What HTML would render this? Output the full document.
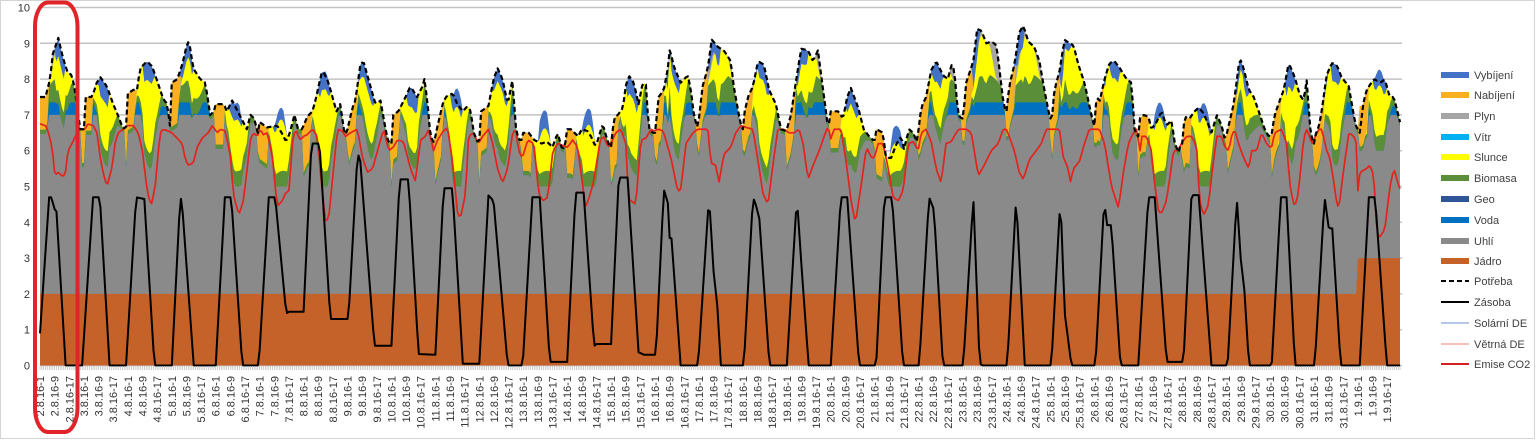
<!DOCTYPE html>
<html><head><meta charset="utf-8">
<style>
html,body{margin:0;padding:0;background:#fff;}
svg{display:block;}
text{font-family:"Liberation Sans",Arial,sans-serif;}
.xl{font-size:11px;fill:#333;}
.yl{font-size:11px;fill:#333;}
.lg{font-size:11px;fill:#404040;}
</style></head><body>
<svg id="c" width="1536" height="440" viewBox="0 0 1536 440" xmlns="http://www.w3.org/2000/svg">
<rect width="1536" height="440" fill="#fff"/>
<rect x="0.5" y="0.5" width="1534" height="438" fill="none" stroke="#d4d4d4"/>
<g stroke="#c3c3c3" stroke-width="1.5">
<line x1="40" y1="7.5" x2="1402" y2="7.5"/>
<line x1="40" y1="43.3" x2="1402" y2="43.3"/>
<line x1="40" y1="79.1" x2="1402" y2="79.1"/>
<line x1="40" y1="114.9" x2="1402" y2="114.9"/>
<line x1="40" y1="150.7" x2="1402" y2="150.7"/>
<line x1="40" y1="186.5" x2="1402" y2="186.5"/>
<line x1="40" y1="222.3" x2="1402" y2="222.3"/>
<line x1="40" y1="258.1" x2="1402" y2="258.1"/>
<line x1="40" y1="293.9" x2="1402" y2="293.9"/>
<line x1="40" y1="329.7" x2="1402" y2="329.7"/>
<line x1="40" y1="365.5" x2="1402" y2="365.5"/>
</g>
<g id="data"></g>
<path id="ticks" stroke="#bbbbbb" stroke-width="0.7" fill="none"/>
<g class="yl" text-anchor="end">
<text x="30" y="11.5">10</text>
<text x="30" y="47.3">9</text>
<text x="30" y="83.1">8</text>
<text x="30" y="118.9">7</text>
<text x="30" y="154.7">6</text>
<text x="30" y="190.5">5</text>
<text x="30" y="226.3">4</text>
<text x="30" y="262.1">3</text>
<text x="30" y="297.9">2</text>
<text x="30" y="333.7">1</text>
<text x="30" y="369.5">0</text>
</g>
<g class="xl" text-anchor="end">
<text transform="translate(44.0,376) rotate(-90)">2.8.16-1</text>
<text transform="translate(58.64,376) rotate(-90)">2.8.16-9</text>
<text transform="translate(73.29,376) rotate(-90)">2.8.16-17</text>
<text transform="translate(87.93,376) rotate(-90)">3.8.16-1</text>
<text transform="translate(102.57,376) rotate(-90)">3.8.16-9</text>
<text transform="translate(117.22,376) rotate(-90)">3.8.16-17</text>
<text transform="translate(131.86,376) rotate(-90)">4.8.16-1</text>
<text transform="translate(146.50,376) rotate(-90)">4.8.16-9</text>
<text transform="translate(161.15,376) rotate(-90)">4.8.16-17</text>
<text transform="translate(175.79,376) rotate(-90)">5.8.16-1</text>
<text transform="translate(190.43,376) rotate(-90)">5.8.16-9</text>
<text transform="translate(205.08,376) rotate(-90)">5.8.16-17</text>
<text transform="translate(219.72,376) rotate(-90)">6.8.16-1</text>
<text transform="translate(234.36,376) rotate(-90)">6.8.16-9</text>
<text transform="translate(249.01,376) rotate(-90)">6.8.16-17</text>
<text transform="translate(263.65,376) rotate(-90)">7.8.16-1</text>
<text transform="translate(278.29,376) rotate(-90)">7.8.16-9</text>
<text transform="translate(292.94,376) rotate(-90)">7.8.16-17</text>
<text transform="translate(307.58,376) rotate(-90)">8.8.16-1</text>
<text transform="translate(322.22,376) rotate(-90)">8.8.16-9</text>
<text transform="translate(336.87,376) rotate(-90)">8.8.16-17</text>
<text transform="translate(351.51,376) rotate(-90)">9.8.16-1</text>
<text transform="translate(366.15,376) rotate(-90)">9.8.16-9</text>
<text transform="translate(380.80,376) rotate(-90)">9.8.16-17</text>
<text transform="translate(395.44,376) rotate(-90)">10.8.16-1</text>
<text transform="translate(410.08,376) rotate(-90)">10.8.16-9</text>
<text transform="translate(424.73,376) rotate(-90)">10.8.16-17</text>
<text transform="translate(439.37,376) rotate(-90)">11.8.16-1</text>
<text transform="translate(454.01,376) rotate(-90)">11.8.16-9</text>
<text transform="translate(468.66,376) rotate(-90)">11.8.16-17</text>
<text transform="translate(483.30,376) rotate(-90)">12.8.16-1</text>
<text transform="translate(497.94,376) rotate(-90)">12.8.16-9</text>
<text transform="translate(512.59,376) rotate(-90)">12.8.16-17</text>
<text transform="translate(527.23,376) rotate(-90)">13.8.16-1</text>
<text transform="translate(541.87,376) rotate(-90)">13.8.16-9</text>
<text transform="translate(556.52,376) rotate(-90)">13.8.16-17</text>
<text transform="translate(571.16,376) rotate(-90)">14.8.16-1</text>
<text transform="translate(585.80,376) rotate(-90)">14.8.16-9</text>
<text transform="translate(600.45,376) rotate(-90)">14.8.16-17</text>
<text transform="translate(615.09,376) rotate(-90)">15.8.16-1</text>
<text transform="translate(629.73,376) rotate(-90)">15.8.16-9</text>
<text transform="translate(644.38,376) rotate(-90)">15.8.16-17</text>
<text transform="translate(659.02,376) rotate(-90)">16.8.16-1</text>
<text transform="translate(673.66,376) rotate(-90)">16.8.16-9</text>
<text transform="translate(688.31,376) rotate(-90)">16.8.16-17</text>
<text transform="translate(702.95,376) rotate(-90)">17.8.16-1</text>
<text transform="translate(717.59,376) rotate(-90)">17.8.16-9</text>
<text transform="translate(732.24,376) rotate(-90)">17.8.16-17</text>
<text transform="translate(746.88,376) rotate(-90)">18.8.16-1</text>
<text transform="translate(761.52,376) rotate(-90)">18.8.16-9</text>
<text transform="translate(776.17,376) rotate(-90)">18.8.16-17</text>
<text transform="translate(790.81,376) rotate(-90)">19.8.16-1</text>
<text transform="translate(805.45,376) rotate(-90)">19.8.16-9</text>
<text transform="translate(820.10,376) rotate(-90)">19.8.16-17</text>
<text transform="translate(834.74,376) rotate(-90)">20.8.16-1</text>
<text transform="translate(849.38,376) rotate(-90)">20.8.16-9</text>
<text transform="translate(864.02,376) rotate(-90)">20.8.16-17</text>
<text transform="translate(878.67,376) rotate(-90)">21.8.16-1</text>
<text transform="translate(893.31,376) rotate(-90)">21.8.16-9</text>
<text transform="translate(907.95,376) rotate(-90)">21.8.16-17</text>
<text transform="translate(922.60,376) rotate(-90)">22.8.16-1</text>
<text transform="translate(937.24,376) rotate(-90)">22.8.16-9</text>
<text transform="translate(951.88,376) rotate(-90)">22.8.16-17</text>
<text transform="translate(966.53,376) rotate(-90)">23.8.16-1</text>
<text transform="translate(981.17,376) rotate(-90)">23.8.16-9</text>
<text transform="translate(995.81,376) rotate(-90)">23.8.16-17</text>
<text transform="translate(1010.46,376) rotate(-90)">24.8.16-1</text>
<text transform="translate(1025.10,376) rotate(-90)">24.8.16-9</text>
<text transform="translate(1039.74,376) rotate(-90)">24.8.16-17</text>
<text transform="translate(1054.39,376) rotate(-90)">25.8.16-1</text>
<text transform="translate(1069.03,376) rotate(-90)">25.8.16-9</text>
<text transform="translate(1083.67,376) rotate(-90)">25.8.16-17</text>
<text transform="translate(1098.32,376) rotate(-90)">26.8.16-1</text>
<text transform="translate(1112.96,376) rotate(-90)">26.8.16-9</text>
<text transform="translate(1127.60,376) rotate(-90)">26.8.16-17</text>
<text transform="translate(1142.25,376) rotate(-90)">27.8.16-1</text>
<text transform="translate(1156.89,376) rotate(-90)">27.8.16-9</text>
<text transform="translate(1171.53,376) rotate(-90)">27.8.16-17</text>
<text transform="translate(1186.18,376) rotate(-90)">28.8.16-1</text>
<text transform="translate(1200.82,376) rotate(-90)">28.8.16-9</text>
<text transform="translate(1215.46,376) rotate(-90)">28.8.16-17</text>
<text transform="translate(1230.11,376) rotate(-90)">29.8.16-1</text>
<text transform="translate(1244.75,376) rotate(-90)">29.8.16-9</text>
<text transform="translate(1259.39,376) rotate(-90)">29.8.16-17</text>
<text transform="translate(1274.04,376) rotate(-90)">30.8.16-1</text>
<text transform="translate(1288.68,376) rotate(-90)">30.8.16-9</text>
<text transform="translate(1303.32,376) rotate(-90)">30.8.16-17</text>
<text transform="translate(1317.97,376) rotate(-90)">31.8.16-1</text>
<text transform="translate(1332.61,376) rotate(-90)">31.8.16-9</text>
<text transform="translate(1347.25,376) rotate(-90)">31.8.16-17</text>
<text transform="translate(1361.90,376) rotate(-90)">1.9.16-1</text>
<text transform="translate(1376.54,376) rotate(-90)">1.9.16-9</text>
<text transform="translate(1391.18,376) rotate(-90)">1.9.16-17</text>
</g>
<g>
<rect x="1441" y="72" width="28" height="6" fill="#4472c4"/>
<rect x="1441" y="92" width="28" height="6" fill="#f8b021"/>
<rect x="1441" y="113" width="28" height="6" fill="#a5a5a5"/>
<rect x="1441" y="134" width="28" height="6" fill="#00b0f0"/>
<rect x="1441" y="154" width="28" height="6" fill="#ffff00"/>
<rect x="1441" y="175" width="28" height="6" fill="#5b8e39"/>
<rect x="1441" y="196" width="28" height="6" fill="#2f5597"/>
<rect x="1441" y="217" width="28" height="6" fill="#0070c0"/>
<rect x="1441" y="238" width="28" height="6" fill="#8a8a8a"/>
<rect x="1441" y="258" width="28" height="6" fill="#c5622a"/>
<line x1="1441" y1="281" x2="1469" y2="281" stroke="#000" stroke-width="2" stroke-dasharray="5,3"/>
<line x1="1441" y1="302" x2="1469" y2="302" stroke="#000" stroke-width="2"/>
<line x1="1441" y1="323" x2="1469" y2="323" stroke="#9bb5e0" stroke-width="1.5"/>
<line x1="1441" y1="344" x2="1469" y2="344" stroke="#f4aaa4" stroke-width="1.5"/>
<line x1="1441" y1="364" x2="1469" y2="364" stroke="#d42020" stroke-width="2"/>
</g>
<g class="lg">
<text x="1474" y="79">Vybíjení</text>
<text x="1474" y="99">Nabíjení</text>
<text x="1474" y="120">Plyn</text>
<text x="1474" y="141">Vítr</text>
<text x="1474" y="161">Slunce</text>
<text x="1474" y="182">Biomasa</text>
<text x="1474" y="203">Geo</text>
<text x="1474" y="224">Voda</text>
<text x="1474" y="245">Uhlí</text>
<text x="1474" y="265">Jádro</text>
<text x="1474" y="285">Potřeba</text>
<text x="1474" y="306">Zásoba</text>
<text x="1474" y="327">Solární DE</text>
<text x="1474" y="348">Větrná DE</text>
<text x="1474" y="368">Emise CO2</text>
</g>
<rect x="35" y="2.5" width="42.5" height="429.5" rx="13" ry="24" fill="none" stroke="#e0242a" stroke-width="4"/>
</svg>
<script>
(function(){
var N=744,X0=40,DX=1360/743;
function X(t){return X0+t*DX;}
function Y(v){return 365.5-v*35.8;}
var Dd=[
[[0,7.5],[3,7.5],[5.5,8.0],[7,8.7],[10,9.15],[12.5,8.6],[15,8.2],[17.5,8.1],[19,7.7],[22,6.6]],
[[0,6.6],[1,7.5],[4.5,7.5],[7,7.9],[9,8.05],[12.5,7.8],[16,7.3],[18.5,7.0],[21.5,6.6],[23.5,6.7]],
[[0,7.6],[3,7.7],[5,7.7],[6.7,8.3],[10.5,8.5],[13.3,8.35],[16,7.95],[19.3,7.45],[21.5,7.3],[23,6.7]],
[[0,7.9],[3,8.0],[5.7,8.4],[8.4,9.0],[9.5,9.05],[11.7,8.3],[15.5,8.0],[18.3,7.9],[21,7.0],[23,7.1]],
[[0,7.3],[4.6,7.3],[6,7.1],[9,7.4],[12,7.1],[17,6.6],[19,7.0],[21,6.9],[23,6.5]],
[[0,6.8],[4,6.65],[9.6,6.7],[12,6.5],[14.5,6.25],[16.5,6.5],[19,7.0],[21,6.6],[23,6.6]],
[[0,6.7],[2,6.95],[4.8,7.1],[6.5,7.4],[8.6,7.9],[10.3,8.25],[13,7.98],[14.7,7.7],[16.3,7.4],[18,7.1],[20,7.3],[22,6.6],[23.5,6.4]],
[[0,6.6],[2.7,7.2],[4.3,7.4],[7,8.4],[8.7,8.5],[11.4,8.0],[15.3,7.3],[18,7.4],[20.8,6.6],[22.5,6.2]],
[[0,6.2],[1,7.0],[3.8,7.1],[7.7,7.5],[10.4,7.8],[14,7.5],[17,7.8],[18,8.0],[19.7,7.35],[21.3,6.4],[23,6.25]],
[[0,6.4],[1,6.65],[4,7.3],[5.6,7.5],[9.5,7.6],[12,7.3],[15,7.1],[17.6,7.25],[19.3,7.1],[21,6.5],[23.5,6.2]],
[[0,6.3],[1,7.1],[5,7.25],[7.8,8.0],[10,8.3],[12.7,8.0],[15.5,7.3],[18.2,8.0],[19.8,6.7],[21.5,6.3],[23,6.3]],
[[0,6.5],[3,6.5],[6,6.3],[10,6.2],[13,6.25],[16,6.1],[18.8,6.5],[21.5,6.0],[23.5,6.3]],
[[0,6.6],[2,6.6],[6,6.4],[8,6.6],[11,6.55],[13,6.4],[15.6,6.1],[19.4,6.75],[22.5,6.2],[23.5,6.1]],
[[0,6.1],[1.5,6.9],[3.7,7.0],[6.5,7.2],[8,7.8],[9.7,8.1],[12.4,7.9],[15,7.3],[17.3,7.9],[19,7.85],[20.6,6.6],[22.8,6.5]],
[[0,6.5],[2,7.5],[4.8,7.7],[7,8.3],[8.1,8.85],[10.3,8.35],[14,7.9],[17.9,8.1],[19.6,7.7],[21.2,7.0],[23.4,6.6]],
[[0,6.9],[2,7.8],[4.8,8.3],[7,9.1],[10.3,8.9],[13.6,8.8],[17.4,8.5],[19,7.8],[21.8,7.0],[23.5,6.6]],
[[0,6.6],[1,7.1],[2.8,7.5],[5.5,7.8],[8.3,8.5],[11.5,8.4],[14.3,7.7],[18,7.3],[20.8,6.6],[23.5,6.55]],
[[0,6.6],[2.3,7.0],[4,7.6],[7.8,8.85],[11.6,8.8],[14.3,8.5],[17,8.8],[19.8,7.7],[21.4,7.1],[22.5,6.6],[23.5,6.9]],
[[0,7.1],[4,7.1],[6.7,6.9],[9,7.5],[11,7.75],[15,7.2],[18,6.6],[21,6.4],[23,6.3]],
[[0,6.3],[1,6.6],[4.5,6.5],[6.2,5.8],[9,5.8],[12,6.2],[14.5,6.4],[16,6.05],[18.8,6.6],[21,6.5],[23.5,6.2]],
[[0,6.6],[1.4,7.2],[4.1,7.5],[6.9,8.25],[9.6,8.5],[13.4,8.1],[16.1,8.0],[17.8,8.4],[19.4,8.3],[21.6,7.0],[23.5,6.9]],
[[0,6.9],[1,7.3],[2,7.9],[5.9,8.5],[8,9.4],[10.3,9.35],[13,9.0],[15.8,9.05],[18.5,8.95],[20,8.35],[22.4,7.3],[23.9,7.1]],
[[0,7.1],[1.5,7.8],[4.3,8.4],[7,9.3],[9.2,9.5],[11.9,9.05],[15.2,8.9],[18,8.5],[20.7,7.7],[23.4,7.0]],
[[0,6.9],[1,7.0],[2.2,7.7],[4.9,8.2],[7.7,9.1],[10.4,9.0],[12.6,8.95],[15.3,8.4],[18.6,7.9],[22.4,7.0],[23.8,6.7]],
[[0,6.7],[1.2,7.5],[3,7.4],[5.6,8.0],[8.3,8.45],[11,8.5],[14,8.3],[17.6,8.0],[20.3,7.9],[22,6.6],[23.5,6.4]],
[[0,6.4],[0.7,6.9],[2.8,7.0],[5.6,6.95],[7.2,6.6],[10,6.8],[12.7,7.1],[15.4,6.7],[18.2,6.85],[20,6.2],[22.5,5.9],[23.5,6.4]],
[[0,6.2],[1.3,6.95],[4,6.9],[6.8,7.1],[9,7.2],[11.7,7.05],[14.5,6.7],[16.1,6.5],[18.9,7.0],[21.6,6.7],[23.3,6.3]],
[[0,6.4],[1.4,6.7],[4.1,7.3],[5.7,7.9],[7.4,8.6],[9.6,8.3],[12.4,7.7],[15.1,7.5],[17.8,7.1],[21.1,6.6],[23.3,6.4]],
[[0,6.4],[1,6.5],[2.5,7.0],[5.3,7.4],[7.5,7.7],[10.2,8.45],[11.5,8.3],[13.5,8.05],[16.3,7.55],[18.4,7.4],[20.1,8.0],[21.7,6.7],[23.5,6.2]],
[[0,6.2],[0.4,6.4],[2.6,6.65],[4.2,7.1],[6.9,8.1],[9.7,8.45],[12.4,8.4],[15.1,8.05],[19,7.8],[21.7,7.0],[23.4,6.6]],
[[0,6.6],[1,6.5],[3.2,7.4],[4.8,7.7],[8.7,8.0],[12.5,7.9],[14.7,8.0],[17.4,7.5],[19.6,7.5],[22.3,6.95],[23.9,6.6]]
];
var Rd=[
[[0,6.75],[3,6.7],[4.4,6.55],[6.6,6.1],[8.2,5.3],[9.8,5.4],[12,5.3],[13.7,5.3],[15.3,6.0],[17.5,6.2],[20.2,6.5],[22,6.6]],
[[0.6,6.6],[2.2,6.75],[5,6.7],[7.2,6.5],[8.8,5.85],[10.4,5.4],[12.6,5.0],[15.4,5.55],[17,6.2],[18.6,6.5],[21.4,6.6],[23.6,6.7]],
[[0,6.7],[3,6.7],[5.6,6.5],[7.8,6.05],[10.5,4.9],[12.7,4.45],[14.9,5.0],[17.6,6.5],[19.3,6.6],[22,6.55]],
[[0,6.5],[1.9,6.4],[5.7,6.2],[7.4,5.75],[9,5.6],[11.7,5.65],[13.9,6.1],[16.6,6.35],[19.9,6.5],[22.1,6.7]],
[[0.8,6.5],[2.5,6.6],[5.2,6.55],[8,5.85],[9.6,4.8],[11.8,4.35],[12.9,4.25],[15.1,4.6],[17.2,5.5],[18.9,6.3],[20.5,6.5],[22.7,6.4]],
[[0.3,6.6],[2,6.45],[4.2,6.5],[6.9,5.85],[8.5,5.0],[9.6,4.45],[12.4,4.6],[14,4.8],[16.2,4.9],[17.8,6.2],[19.4,6.6],[22.2,6.3]],
[[0,6.4],[2,6.45],[4.8,6.6],[7.6,6.4],[10.3,4.8],[12,4.05],[13.7,4.1],[15.8,5.2],[18.5,6.6],[21.2,6.55],[22.9,6.4]],
[[1.6,6.5],[5.4,6.6],[8.2,5.8],[10.9,5.4],[13.7,5.5],[16.4,6.0],[19.7,6.6],[22.5,6.0]],
[[1,6.1],[3.3,6.3],[6.6,6.25],[10.4,5.5],[13.1,5.15],[15.9,6.3],[18.6,6.4],[20.3,6.6],[23,6.0]],
[[1.2,6.3],[4.4,6.55],[6.6,6.65],[9.4,5.7],[12.2,4.2],[13.8,4.15],[16.5,4.8],[18.1,6.4],[20.8,6.5],[23.5,6.2]],
[[1.8,6.4],[5.1,6.6],[7.3,6.2],[10,5.5],[12.7,5.1],[15.5,5.5],[18.2,6.5],[19.8,6.6],[21.5,6.0],[23.5,5.8]],
[[2.5,6.3],[5.8,6.2],[8.5,4.8],[10.7,4.6],[13.4,4.7],[16.2,6.0],[18.9,6.2],[23.5,6.1]],
[[0.3,6.1],[3,6.3],[5.7,6.1],[10,4.45],[11.5,4.6],[14.3,5.1],[18.1,6.3],[19.8,6.4],[22.5,6.1],[23.5,6.15]],
[[2.5,6.5],[5.3,6.6],[8,6.2],[9.6,4.65],[13.5,4.5],[16.3,6.3],[19,6.35],[21.8,6.6],[23.5,6.55]],
[[1.8,6.6],[4.5,6.55],[8.7,5.8],[12.5,4.85],[14.2,4.95],[16.9,6.2],[20.7,6.5],[23.4,6.6]],
[[1,6.6],[4.9,6.6],[6.5,5.65],[9.2,5.6],[10.9,5.1],[13.6,5.9],[17.4,6.1],[20.1,6.5],[22.9,6.7]],
[[1.7,6.65],[5.5,6.6],[8.3,5.7],[11,4.8],[13.7,4.5],[16.4,5.6],[19.1,6.6],[22.4,6.6]],
[[1.2,6.5],[4,6.5],[6.7,6.6],[8.9,6.2],[11.6,5.2],[14.4,5.6],[17.7,6.0],[20.4,6.4],[22.6,6.7],[23.8,6.3]],
[[1.8,6.6],[5.6,6.6],[8.4,5.7],[11.1,4.6],[13,4.1],[14,4.15],[16.8,5.1],[19.5,6.1],[22.3,5.8],[23.8,5.8]],
[[1.9,6.2],[4.6,6.2],[7.4,5.5],[10.1,4.7],[12.9,4.6],[15.6,4.9],[18.4,6.2],[21.1,6.25],[23.8,6.0]],
[[1.4,6.5],[4.1,6.6],[6.9,6.25],[9.6,5.5],[12.3,5.1],[15,6.2],[17.8,6.25],[20.5,6.5],[22.1,6.6]],
[[2.0,6.6],[4.8,6.5],[6.4,6.0],[8.6,5.3],[11.9,5.6],[15.7,6.0],[19.5,6.2],[22.2,6.6],[23.9,6.6]],
[[1.5,6.4],[4.3,6.0],[7,5.4],[9.2,5.2],[12.5,5.75],[16.3,6.0],[19,6.2],[21.8,6.6]],
[[2.2,6.6],[4.9,6.6],[7.1,5.8],[9.9,5.5],[10.4,5.0],[12.6,5.5],[15.9,5.7],[18.6,6.2],[21.3,6.6]],
[[2.8,6.6],[5.6,6.2],[9.4,5.0],[13.2,4.4],[15.9,5.4],[18.6,6.2],[21.4,6.5],[23,6.6]],
[[1,6.0],[1.8,6.4],[4.5,6.4],[7.2,6.0],[8.9,5.1],[11.1,4.3],[12.7,4.25],[15.4,4.6],[17.1,5.2],[19.3,6.0],[21.9,6.0],[23.5,6.2]],
[[2.4,6.4],[5.2,6.4],[7.9,6.1],[9.5,4.6],[11.7,4.2],[14.4,4.5],[16.1,5.3],[18.9,6.4],[21.6,6.4],[23.3,6.1]],
[[1.4,6.0],[3,6.4],[4.6,6.6],[6.8,6.2],[9.6,5.8],[12.4,5.5],[14,6.0],[16.7,6.0],[19.4,6.5],[22.1,6.2],[23.8,6.1]],
[[0.9,6.1],[2.5,6.5],[6.3,6.6],[9.1,6.2],[10.7,5.1],[12.9,4.5],[14.6,4.55],[16.2,5.2],[18.4,6.35],[20.1,6.6],[22.9,6.2]],
[[2.6,6.6],[4.2,6.6],[7,6.0],[8.7,5.8],[10.9,5.1],[12.5,4.5],[13.6,4.4],[16.4,5.55],[19.1,6.5],[21.8,6.4],[23.2,6.2],[23.9,4.9]],
[[0.2,4.85],[1.1,5.4],[4.8,5.5],[6.5,5.6],[8.7,5.3],[10.3,3.7],[12,3.6],[14.7,3.8],[16.9,4.75],[18.5,5.3],[20.1,5.45],[22.3,5.0],[23.9,4.85]]
];
var Zg=[[0,0.9],[5,4.7],[6.5,4.7],[7.5,4.4],[9,4.3],[14,0],
[23,0],[29,4.7],[32.7,4.7],[38,0],
[47,0],[52.5,4.7],[57,4.65],[62.5,0],
[72,0],[76.6,4.7],[77.5,4.6],[84,0],
[96,0],[101,4.7],[104.5,4.7],[110.5,0],
[119.5,0],[125,4.7],[128.5,4.7],[134.5,1.45],[136,1.5],
[144,1.5],[148.3,6.2],[152.7,6.2],[158.6,1.3],
[168.5,1.3],[173.5,5.95],[175,5.7],[182.7,0.55],
[192,0.55],[196.5,5.2],[201.3,5.2],[206.8,0.32],
[216,0.3],[220.5,4.95],[225.3,4.95],[231,0.05],
[240,0.05],[245,4.75],[247.8,4.6],[255.5,0],
[263.7,0],[269,4.7],[273,4.7],[278.5,0.1],
[288,0.1],[292.6,4.83],[297,4.83],[302.7,0.53],[303.5,0.6],
[312,0.6],[316.2,5.25],[321,5.25],[327,0.37],[330,0.3],
[336.5,0.3],[340.8,4.92],[343,4.54],[344,3.56],[345,3.55],[350,0],
[359.5,0],[365.5,4.73],[368.5,2.2],[369.5,2.1],[372,0],
[384.5,0],[389.5,4.7],[391,4.5],[393,4.1],[398.5,0],
[408,0],[413.5,4.7],[416,2.8],[419.5,0.3],[420,0],
[432,0],[437.5,4.7],[441,4.7],[447.5,0],
[456.8,0],[461.3,4.7],[465.5,4.7],[471.5,0],
[480.3,0],[485.7,4.7],[488.4,4.35],[493.3,0],
[504.4,0],[509.9,4.7],[513.3,0.1],[514.3,0],
[528.4,0],[533.3,4.7],[538,0],
[552.5,0],[557.5,4.7],[559.8,1.45],[560.5,1.2],[563.5,0],
[576.6,0],[581.5,4.7],[582.6,3.92],[585.3,3.92],[590.3,0],
[600,0],[605.5,4.7],[609,4.7],[615.5,0.1],
[624.7,0.1],[629.1,4.76],[633,4.76],[640,0],
[648.8,0],[653.8,4.7],[656.5,2.58],[657.5,2.5],[660.5,0],
[672.9,0],[677.9,4.7],[681,4.7],[685.6,0],
[696.4,0],[701.8,4.7],[704.1,3.83],[706,3.83],[710.6,0],
[721,0],[726,4.7],[729.4,4.7],[735.8,0],[744,0]];
var S=[1.0,1.3,2.0,0.8,1.45,1.45,2.3,1.2,1.2,1.8,1.6,1.2,1.3,1.6,1.5,1.0,2.2,1.1,1.3,0.8,1.1,1.2,1.2,1.3,1.8,1.5,1.5,0.8,1.6,1.9,1.4];
function glob(days){var g=[];days.forEach(function(a,d){a.forEach(function(p){g.push([d*24+p[0],p[1]]);});});g.sort(function(a,b){return a[0]-b[0];});return g;}
function ip(g,t){if(t<=g[0][0])return g[0][1];for(var i=1;i<g.length;i++){if(t<=g[i][0]){var a=g[i-1],b=g[i];var dd=b[0]-a[0];if(dd<=0)return b[1];return a[1]+(b[1]-a[1])*(t-a[0])/dd;}}return g[g.length-1][1];}
var Dg=glob(Dd),Rg=glob(Rd);
var D=[],Z=[],R=[];
for(var t=0;t<=N;t++){D[t]=ip(Dg,t);Z[t]=ip(Zg,t);R[t]=ip(Rg,t);}
var c1=[],c2=[],c3=[],c5=[],c6=[],c8=[],c9=[],c10=[];
for(var t=0;t<N;t++){
 var d=Math.floor(t/24),h=t%24;
 var nuc=d>=30?3:2;
 var f=(h>4.5&&h<18.5)?Math.pow(Math.sin(Math.PI*(h-4.5)/14),1.2):0;
 var g=(h>5&&h<21)?Math.sin(Math.PI*(h-5)/16):0;
 var sol=S[d]*f;
 var bio=0.12+0.32*g;
 var nab=Math.max(0,Z[t+1]-Z[t])*1.2;
 var vyb=Math.max(0,Z[t]-Z[t+1])*0.6;
 var need=D[t]-nab-vyb-sol-bio-nuc;
 var cmax=7-nuc,cmin=3;
 var coal=Math.min(cmax,Math.max(cmin,need));
 var ex=Math.max(0,need-cmax);
 var voda=Math.min(ex,0.35);ex-=voda;
 var b2=Math.min(ex,0.35);bio+=b2;ex-=b2;
 var plyn=ex;
 c1[t]=nuc;c2[t]=c1[t]+coal;c3[t]=c2[t]+voda;c5[t]=c3[t]+bio;c6[t]=c5[t]+sol;c8[t]=c6[t]+plyn;c9[t]=c8[t]+nab;c10[t]=c9[t]+vyb;
}
function area(arr,col){var s='M'+X(0).toFixed(2)+','+Y(0).toFixed(2);for(var t=0;t<N;t++)s+='L'+X(t).toFixed(2)+','+Y(arr[t]).toFixed(2);s+='L'+X(N-1).toFixed(2)+','+Y(0).toFixed(2)+'Z';return '<path d="'+s+'" fill="'+col+'"/>';}
function line(arr,st){var s='';for(var t=0;t<N;t++)s+=(t?'L':'M')+X(t).toFixed(2)+','+Y(arr[t]).toFixed(2);return '<path d="'+s+'" fill="none" stroke-linejoin="round" '+st+'/>';}
var html='';
html+=area(c10,'#4472c4');
html+=area(c9,'#f8b021');
html+=area(c8,'#a5a5a5');
html+=area(c6,'#ffff00');
html+=area(c5,'#5b8e39');
html+=area(c3,'#0070c0');
html+=area(c2,'#8a8a8a');
html+=area(c1,'#c5622a');
html+=line(R,'stroke="#e3231c" stroke-width="1.7"');
html+=line(Z,'stroke="#000" stroke-width="2"');
html+=line(D,'stroke="#000" stroke-width="2.2" stroke-dasharray="5,3"');
document.getElementById('data').innerHTML=html;
var tk='';for(var t=0;t<N;t++){var x=X(t).toFixed(2);tk+='M'+x+',366V370';}
document.getElementById('ticks').setAttribute('d',tk);
})();
</script>
</body></html>
